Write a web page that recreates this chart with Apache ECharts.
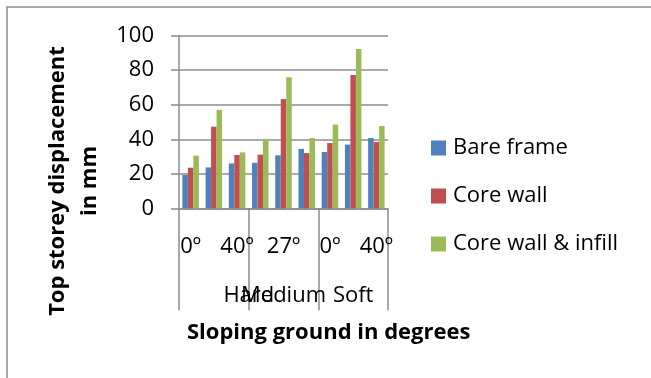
<!DOCTYPE html>
<html><head><meta charset="utf-8">
<script src="https://cdn.jsdelivr.net/npm/echarts@6/dist/echarts.min.js"></script>
<style>html,body{margin:0;padding:0;background:#fff}#c{width:651px;height:378px}</style>
</head><body><div id="c"></div>
<script>
const angles = ['0º','27º','40º','0º','27º','40º','0º','27º','40º'];
const soils = ['Hard','Medium','Soft'];
const bareFrame = [19.3, 23.7, 26.0, 26.4, 30.7, 34.4, 32.6, 36.9, 40.7];
const coreWall = [23.5, 47.3, 30.9, 31.1, 63.3, 32.0, 37.8, 77.2, 38.4];
const coreWallInfill = [30.5, 57.0, 32.4, 40.2, 75.9, 40.7, 48.5, 92.3, 47.7];
const yTicks = [0, 20, 40, 60, 80, 100];
const seriesNames = ['Bare frame','Core wall','Core wall & infill'];
const colors = ['#4F81BD','#C0504D','#9BBB59'];
const FONT = '"Open Sans", sans-serif';
const chart = echarts.init(document.getElementById('c'), null, {renderer:'canvas'});
const mk = (name, data, color) => ({
  name, type:'bar', data, barWidth:5.5, barGap:'0%', xAxisIndex:0,
  itemStyle:{color}
});
chart.setOption({
  animation:false,
  grid:{left:179, right:263, top:35.7, bottom:169.7, containLabel:false},
  legend:{
    orient:'vertical', left:431, top:136, padding:0, itemWidth:15, itemHeight:15, itemGap:24,
    icon:'rect', data:seriesNames,
    textStyle:{fontFamily:FONT, fontSize:22, color:'#000', lineHeight:24, padding:[0,0,0,2]}
  },
  xAxis:[{
    type:'category', data:angles, position:'bottom',
    axisLine:{show:true, lineStyle:{color:'#8c8c8c', width:1.5}},
    axisTick:{show:false},
    axisLabel:{interval:1, hideOverlap:false, margin:27, fontFamily:FONT, fontSize:22, color:'#000'}
  },{
    type:'category', data:soils, position:'bottom',
    axisLine:{show:false},
    axisTick:{show:true, length:102, lineStyle:{color:'#8c8c8c', width:1.5}},
    axisLabel:{interval:0, hideOverlap:false, margin:76, fontFamily:FONT, fontSize:22, color:'#000',
      formatter:v => v === 'Hard' ? '{h|' + v + '}' : v,
      rich:{h:{fontFamily:FONT, fontSize:22, color:'#000', padding:[0,0,0,70]}}}
  }],
  yAxis:{
    type:'value', min:yTicks[0], max:yTicks[yTicks.length-1], interval:20,
    axisLine:{show:true, lineStyle:{color:'#8c8c8c', width:1.5}},
    axisTick:{show:true, length:8, lineStyle:{color:'#8c8c8c', width:1.5}},
    splitLine:{lineStyle:{color:'#8c8c8c', width:1.5}},
    axisLabel:{margin:25, fontFamily:FONT, fontSize:22, color:'#000'}
  },
  series:[mk(seriesNames[0], bareFrame, colors[0]), mk(seriesNames[1], coreWall, colors[1]), mk(seriesNames[2], coreWallInfill, colors[2])],
  graphic:[
    {type:'rect', shape:{x:7, y:7, width:700, height:420}, style:{fill:'none', stroke:'#8c8c8c', lineWidth:1.5}, silent:true},
    {type:'text', x:74, y:181, rotation:Math.PI/2,
      style:{text:'Top storey displacement\nin mm', fontFamily:FONT, fontWeight:'bold', fontSize:22, lineHeight:32,
        textAlign:'center', textVerticalAlign:'middle', fill:'#000'}},
    {type:'text', x:187, y:333,
      style:{text:'Sloping ground in degrees', fontFamily:FONT, fontWeight:'bold', fontSize:22,
        textAlign:'left', textVerticalAlign:'middle', fill:'#000'}}
  ]
});
</script></body></html>
